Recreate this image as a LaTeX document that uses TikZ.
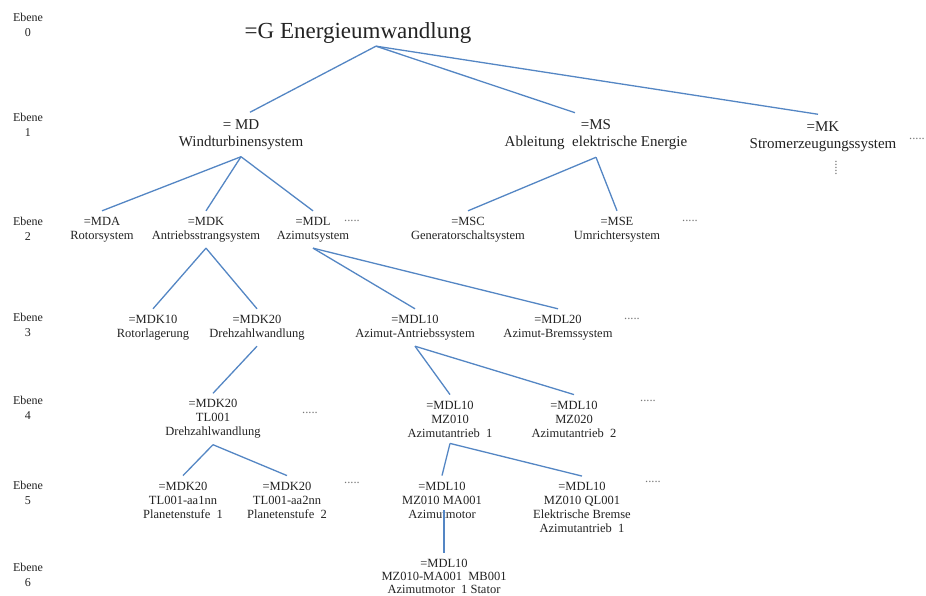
\documentclass[tikz,border=0pt]{standalone}
\usepackage{fontspec}
\setmainfont{Liberation Serif}
\definecolor{textcol}{RGB}{35,35,35}
\definecolor{linecol}{RGB}{84,134,196}
\definecolor{dotcol}{RGB}{120,120,120}
\begin{document}
\begin{tikzpicture}[x=1pt,y=-1pt,
  txt/.style={text=textcol, align=center, inner xsep=0pt, inner ysep=6pt, font=\fontsize{12.5}{14}\selectfont},
  lvlone/.style={txt, inner ysep=7pt, font=\fontsize{15}{17}\selectfont},
  rootnode/.style={txt, inner ysep=2.5pt, font=\fontsize{23}{26}\selectfont},
  ebene/.style={text=textcol, align=center, inner sep=0pt, font=\fontsize{12}{14.5}\selectfont},
  dotsnode/.style={text=dotcol, inner sep=0pt, font=\fontsize{12.5}{14}\selectfont},
  conn/.style={draw=linecol, line width=1.3pt}]
\useasboundingbox (0,0) rectangle (926,596);
\fill[white] (0,0) rectangle (926,596);

% level labels
\node[ebene] (e0) at (28,25) {Ebene\\0};
\node[ebene] (e1) at (28,125) {Ebene\\1};
\node[ebene] (e2) at (28,229) {Ebene\\2};
\node[ebene] (e3) at (28,325) {Ebene\\3};
\node[ebene] (e4) at (28,408) {Ebene\\4};
\node[ebene] (e5) at (28,493) {Ebene\\5};
\node[ebene] (e6) at (28,575) {Ebene\\6};

% level 0
\node[rootnode] (G) at (358,33) {=G Energieumwandlung};

% level 1
\node[lvlone] (MD) at (241,134.5) {= MD\\Windturbinensystem};
\node[lvlone] (MS) at (596,135) {=MS\\Ableitung~~elektrische Energie};
\node[lvlone] (MK) at (823,136.5) {=MK\\Stromerzeugungssystem};
\node[dotsnode] (MKd) at (917,139) {.....};
\node[dotsnode, rotate=90] (MKv) at (836,168) {.....};

% level 2
\node[txt] (MDA) at (102,229.5) {=MDA\\Rotorsystem};
\node[txt] (MDK) at (206,229.5) {=MDK\\Antriebsstrangsystem};
\node[txt] (MDL) at (313,229.5) {=MDL\\Azimutsystem};
\node[dotsnode] (MDLd) at (352,221) {.....};
\node[txt] (MSC) at (468,229.5) {=MSC\\Generatorschaltsystem};
\node[txt] (MSE) at (617,229.5) {=MSE\\Umrichtersystem};
\node[dotsnode] (MSd) at (690,221) {.....};

% level 3
\node[txt] (MDK10) at (153,327.5) {=MDK10\\Rotorlagerung};
\node[txt] (MDK20) at (257,327.5) {=MDK20\\Drehzahlwandlung};
\node[txt] (MDL10) at (415,327.5) {=MDL10\\Azimut-Antriebssystem};
\node[txt] (MDL20) at (558,327.5) {=MDL20\\Azimut-Bremssystem};
\node[dotsnode] (L3d) at (632,319) {.....};

% level 4
\node[txt] (TL001) at (213,419) {=MDK20\\TL001\\Drehzahlwandlung};
\node[dotsnode] (TLd) at (310,413) {.....};
\node[txt] (MZ010) at (450,419) {=MDL10\\MZ010\\Azimutantrieb~~1};
\node[txt] (MZ020) at (574,419) {=MDL10\\MZ020\\Azimutantrieb~~2};
\node[dotsnode] (MZd) at (648,401) {.....};

% level 5
\node[txt] (AA1) at (183,500) {=MDK20\\TL001-aa1nn\\Planetenstufe~~1};
\node[txt] (AA2) at (287,500) {=MDK20\\TL001-aa2nn\\Planetenstufe~~2};
\node[dotsnode] (L5d) at (352,483) {.....};
\node[txt] (MA001) at (442,500) {=MDL10\\MZ010 MA001\\Azimutmotor};
\node[txt] (QL001) at (582,507.5) {=MDL10\\MZ010 QL001\\Elektrische Bremse\\Azimutantrieb~~1};
\node[dotsnode] (L5d2) at (653,482) {.....};

% level 6
\node[txt, font=\fontsize{12.5}{13}\selectfont] (MB001) at (444,576) {=MDL10\\MZ010-MA001~~MB001\\Azimutmotor~~1 Stator};

% connectors
\draw[conn] ([xshift=18pt]G.south) -- ([xshift=9pt]MD.north);
\draw[conn] ([xshift=18pt]G.south) -- ([xshift=-21pt]MS.north);
\draw[conn] ([xshift=18pt]G.south) -- ([xshift=-5pt]MK.north);

\draw[conn] (MD.south) -- (MDA.north);
\draw[conn] (MD.south) -- (MDK.north);
\draw[conn] (MD.south) -- (MDL.north);
\draw[conn] (MS.south) -- (MSC.north);
\draw[conn] (MS.south) -- (MSE.north);

\draw[conn] (MDK.south) -- (MDK10.north);
\draw[conn] (MDK.south) -- (MDK20.north);
\draw[conn] (MDL.south) -- (MDL10.north);
\draw[conn] (MDL.south) -- (MDL20.north);

\draw[conn] (MDK20.south) -- (TL001.north);
\draw[conn] (MDL10.south) -- (MZ010.north);
\draw[conn] (MDL10.south) -- (MZ020.north);

\draw[conn] (TL001.south) -- (AA1.north);
\draw[conn] (TL001.south) -- (AA2.north);
\draw[conn] (MZ010.south) -- (MA001.north);
\draw[conn] (MZ010.south) -- (QL001.north);

\draw[conn, shorten <=-14pt] (MA001.south -| MB001.north) -- (MB001.north);
\end{tikzpicture}
\end{document}
